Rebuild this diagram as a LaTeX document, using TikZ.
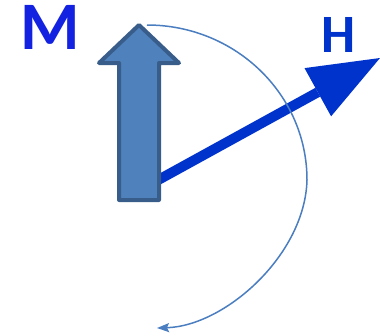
\documentclass[tikz,border=0pt]{standalone}
\usepackage{fontspec}
\usetikzlibrary{arrows.meta}
\newfontfamily\lblfont{Carlito}
\definecolor{mtext}{HTML}{1222E0}
\definecolor{hblue}{HTML}{0033CC}
\definecolor{mfill}{HTML}{4F81BD}
\definecolor{mline}{HTML}{385D8A}
\definecolor{arcblue}{HTML}{4A7EC0}
\tikzset{
  bigfont/.style={font=\lblfont\bfseries\fontsize{68}{68}\selectfont},
  hfont/.style={font=\lblfont\bfseries\fontsize{54}{54}\selectfont},
  marrow/.style={fill=mfill, draw=mline, line width=4pt, line join=round},
  harrow/.style={hblue, line width=10pt},
  arcline/.style={arcblue, line width=1.5pt, -{Stealth[length=12pt,width=9pt,inset=2pt]}}
}
\begin{document}
\begin{tikzpicture}[x=1pt,y=-1pt]
\useasboundingbox (0,0) rectangle (380,335);
% labels
\node[bigfont, text=mtext, anchor=base, inner sep=0pt] (mlabel) at (50,49) {M};
\node[hfont, text=hblue, anchor=base, inner sep=0pt] (hlabel) at (339,52) {H};
% H arrow
\coordinate (hs) at (140,190);
\coordinate (hb) at (317.8,92.2);
\coordinate (ht) at (380,58);
\coordinate (hc1) at (331.1,116.3);
\coordinate (hc2) at (304.5,68.1);
\draw[harrow] (hs) -- (hb);
\fill[hblue] (hc1) -- (ht) -- (hc2) -- cycle;
% rotation arc
\coordinate (as) at (147,25);
\coordinate (am) at (307,180);
\coordinate (ae) at (157,328);
\draw[arcline] (as) .. controls (235,25) and (307,94) .. (am)
               .. controls (305,255) and (225,326) .. (ae);
% M arrow
\draw[marrow] (139,25) -- (179,63) -- (159,63) -- (159,200) -- (119,200) -- (119,63) -- (99,63) -- cycle;
\end{tikzpicture}
\end{document}
